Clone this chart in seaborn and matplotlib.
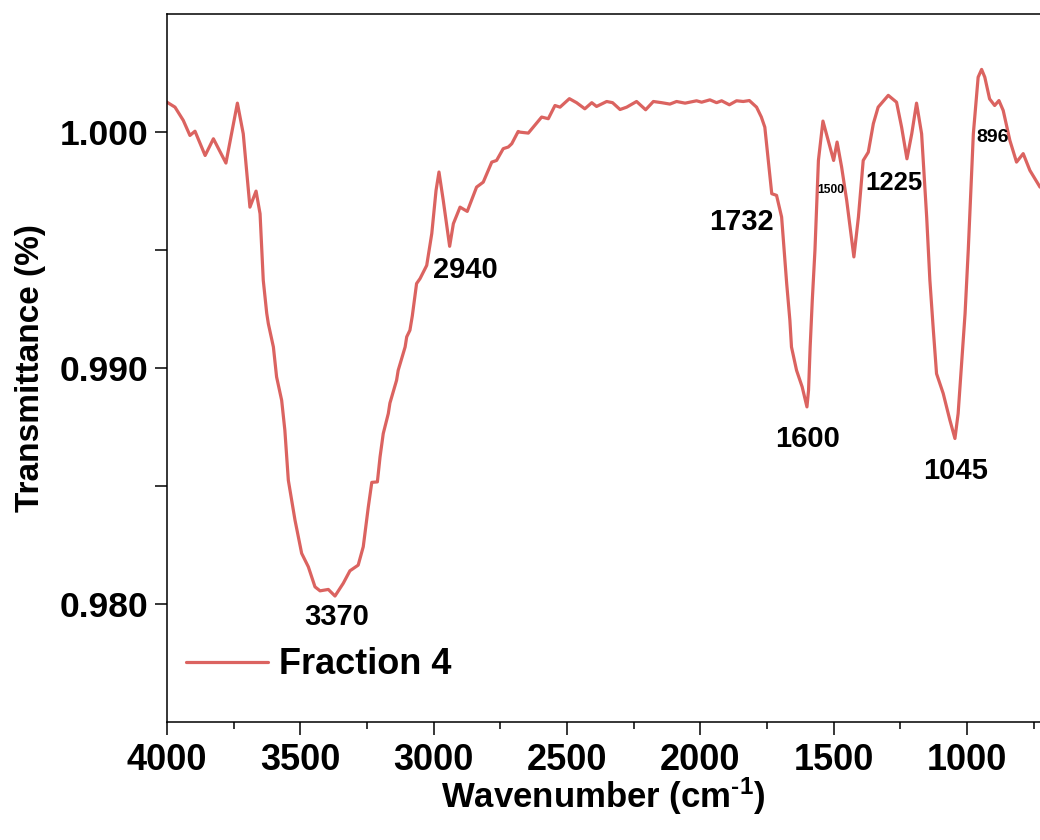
import matplotlib
matplotlib.use("Agg")
import matplotlib.pyplot as plt
from matplotlib.ticker import FixedLocator, MultipleLocator, FormatStrFormatter
import seaborn as sns
import pandas as pd

# FTIR spectrum of Fraction 4
wavenumber = [
    4000, 3970, 3939, 3914, 3895, 3857, 3826, 3779, 3736, 3714,
    3689, 3666, 3651, 3639, 3626, 3620, 3601, 3589, 3570, 3558,
    3545, 3520, 3495, 3470, 3445, 3426, 3395, 3370, 3339, 3314,
    3283, 3264, 3245, 3232, 3211, 3201, 3189, 3170, 3164, 3139,
    3133, 3107, 3101, 3089, 3080, 3064, 3051, 3026, 3007, 2991,
    2980, 2964, 2940, 2926, 2901, 2874, 2839, 2814, 2782, 2764,
    2739, 2720, 2707, 2683, 2676, 2645, 2595, 2570, 2545, 2526,
    2491, 2464, 2433, 2407, 2389, 2351, 2329, 2301, 2276, 2239,
    2205, 2176, 2145, 2114, 2089, 2057, 2014, 1995, 1964, 1939,
    1920, 1891, 1864, 1839, 1816, 1789, 1771, 1758, 1745, 1732,
    1714, 1695, 1676, 1664, 1658, 1639, 1618, 1600, 1594, 1588,
    1580, 1570, 1557, 1540, 1527, 1500, 1487, 1470, 1451, 1424,
    1407, 1389, 1370, 1351, 1333, 1295, 1264, 1245, 1225, 1207,
    1189, 1170, 1151, 1139, 1126, 1114, 1089, 1064, 1045, 1033,
    1020, 1007, 995, 976, 958, 945, 933, 915, 896, 880,
    864, 839, 814, 789, 764, 726,
]
transmittance = [
    1.00126, 1.00105, 1.00049, 0.99985, 1.00003, 0.99900, 0.99971, 0.99868, 1.00122, 0.99992,
    0.99681, 0.99749, 0.99653, 0.99371, 0.99231, 0.99187, 0.99088, 0.98961, 0.98862, 0.98735,
    0.98523, 0.98354, 0.98213, 0.98156, 0.98071, 0.98054, 0.98060, 0.98032, 0.98086, 0.98139,
    0.98163, 0.98241, 0.98410, 0.98514, 0.98516, 0.98622, 0.98721, 0.98806, 0.98850, 0.98947,
    0.98989, 0.99088, 0.99131, 0.99159, 0.99220, 0.99357, 0.99378, 0.99434, 0.99569, 0.99752,
    0.99830, 0.99710, 0.99515, 0.99611, 0.99681, 0.99663, 0.99766, 0.99787, 0.99872, 0.99879,
    0.99929, 0.99936, 0.99950, 1.00002, 0.99999, 0.99995, 1.00063, 1.00056, 1.00112, 1.00105,
    1.00141, 1.00124, 1.00098, 1.00124, 1.00108, 1.00129, 1.00124, 1.00095, 1.00105, 1.00129,
    1.00094, 1.00129, 1.00124, 1.00118, 1.00129, 1.00122, 1.00132, 1.00126, 1.00136, 1.00124,
    1.00132, 1.00115, 1.00132, 1.00129, 1.00133, 1.00105, 1.00063, 1.00020, 0.99879, 0.99738,
    0.99731, 0.99639, 0.99357, 0.99201, 0.99088, 0.98989, 0.98919, 0.98834, 0.98905, 0.99088,
    0.99286, 0.99498, 0.99879, 1.00046, 0.99992, 0.99879, 0.99957, 0.99851, 0.99710, 0.99470,
    0.99639, 0.99879, 0.99914, 1.00035, 1.00105, 1.00155, 1.00126, 1.00020, 0.99886, 0.99992,
    1.00122, 0.99992, 0.99639, 0.99371, 0.99159, 0.98975, 0.98891, 0.98778, 0.98700, 0.98806,
    0.99018, 0.99230, 0.99500, 0.99992, 1.00232, 1.00265, 1.00232, 1.00140, 1.00112, 1.00133,
    1.00091, 0.99964, 0.99872, 0.99908, 0.99837, 0.99766,
]
series_name = "Fraction 4"

# annotated bands and where their labels sit
peaks = [3370, 2940, 1732, 1600, 1500, 1225, 1045, 896]
label_x = [3364, 2881, 1845, 1596, 1512, 1272, 1044, 902]
label_y = [0.97909, 0.99379, 0.99583, 0.98664, 0.99741, 0.99752, 0.98530, 0.99957]
label_size = [21, 21, 21, 21, 8.7, 18.5, 21, 14]

x_ticks = [4000, 3500, 3000, 2500, 2000, 1500, 1000]
y_ticks = [0.980, 0.990, 1.000]

sns.set_theme(style="ticks")
plt.rcParams["font.family"] = ["Liberation Sans", "DejaVu Sans"]
plt.rcParams["font.weight"] = "bold"
plt.rcParams["axes.labelweight"] = "bold"
plt.rcParams["text.color"] = "black"
plt.rcParams["axes.labelcolor"] = "black"
plt.rcParams["xtick.color"] = "black"
plt.rcParams["ytick.color"] = "black"
plt.rcParams["mathtext.fontset"] = "custom"
plt.rcParams["mathtext.rm"] = "Liberation Sans:bold"
plt.rcParams["mathtext.it"] = "Liberation Sans:bold"
plt.rcParams["mathtext.bf"] = "Liberation Sans:bold"
plt.rcParams["mathtext.default"] = "rm"

line_color = "#DB6360"

fig = plt.figure(figsize=(10.4, 8.4), dpi=100)
ax = fig.add_axes([167 / 1040, 118.5 / 840, 873 / 1040, 707.5 / 840])

df = pd.DataFrame({"Wavenumber": wavenumber, "Transmittance": transmittance})
sns.lineplot(data=df, x="Wavenumber", y="Transmittance", ax=ax, color=line_color,
             linewidth=2.3, estimator=None, sort=True, label=series_name)

ax.set_xlim(4000, 726)
ax.set_ylim(0.975, 1.005)

ax.xaxis.set_major_locator(FixedLocator(x_ticks))
ax.xaxis.set_minor_locator(MultipleLocator(250))
ax.yaxis.set_major_locator(FixedLocator(y_ticks))
ax.yaxis.set_minor_locator(FixedLocator([0.985, 0.995]))
ax.yaxis.set_major_formatter(FormatStrFormatter("%.3f"))

ax.tick_params(axis="x", which="major", length=9.4, width=1.1, pad=6,
               labelsize=26, colors="black", direction="out")
ax.tick_params(axis="x", which="minor", length=4.7, width=1.1, direction="out",
               colors="black")
ax.tick_params(axis="y", which="both", length=8.6, width=1.1, pad=5,
               labelsize=25.5, colors="black", direction="out")
for lbl in ax.get_xticklabels() + ax.get_yticklabels():
    lbl.set_fontweight("bold")

for side in ("left", "bottom", "top"):
    ax.spines[side].set_linewidth(1.1)
    ax.spines[side].set_color("black")
ax.spines["right"].set_visible(False)

ax.set_xlabel(r"Wavenumber (cm$^{\text{-}1}$)", fontsize=25, fontweight="bold", color="black")
ax.set_ylabel("Transmittance (%)", fontsize=24, fontweight="bold", color="black")
ax.xaxis.set_label_coords(0.5, -0.076)
ax.yaxis.set_label_coords(-0.139, 0.5)

for p, lx, ly, fs in zip(peaks, label_x, label_y, label_size):
    ax.text(lx, ly, str(p), ha="center", va="baseline", fontsize=fs,
            fontweight="bold", color="black")

leg = ax.legend(loc="center left", bbox_to_anchor=(0.0218, 0.0799), frameon=False,
                handlelength=2.28, handletextpad=0.3, borderpad=0,
                borderaxespad=0, prop={"weight": "bold", "size": 26})
for t in leg.get_texts():
    t.set_color("black")
for h in leg.get_lines():
    h.set_linewidth(2.3)

fig.savefig("out.png", dpi=100)
